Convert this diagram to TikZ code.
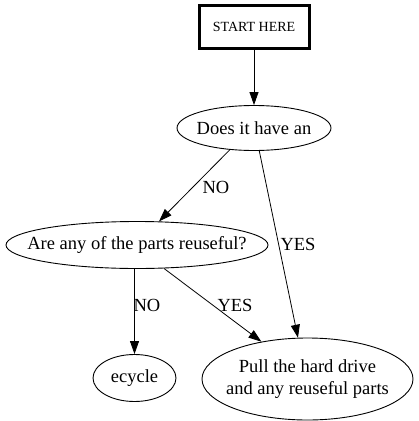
\documentclass[tikz,border=0pt]{standalone}
\usepackage{fontspec}
\setmainfont{Liberation Serif}
\usetikzlibrary{shapes.geometric,arrows.meta}
\tikzset{
  ell/.style={draw, ellipse, inner sep=0pt, line width=0.9pt},
  big/.style={font=\fontsize{18.5}{22}\selectfont},
  edge/.style={line width=0.8pt, -{Triangle[length=13pt,width=9pt]}},
  lbl/.style={big, inner sep=0pt}
}
\begin{document}
\begin{tikzpicture}[x=1pt,y=-1pt]
\useasboundingbox (0,0) rectangle (419,421);
\node[draw, line width=3pt, minimum width=110pt, minimum height=43pt, inner sep=0pt,
      font=\fontsize{14}{16}\selectfont] (start) at (254,27) {START HERE};
\node[ell, minimum width=154pt, minimum height=45pt,
      label={[big]center:Does it have an}] (does) at (254,128) {};
\node[ell, minimum width=262pt, minimum height=47pt,
      label={[big]center:Are any of the parts reuseful?}] (are) at (137,245) {};
\node[ell, minimum width=83pt, minimum height=47pt,
      label={[big]center:ecycle}] (ecycle) at (134.5,378) {};
\node[ell, minimum width=211pt, minimum height=82pt,
      label={[big,align=center]center:{Pull the hard drive\\and any reuseful parts}}] (pull) at (307.5,379) {};
\draw[edge] (start.south) -- (does.north);
\draw[edge] (does.222.5) -- (are.47.6);
\draw[edge] (does.-77.2) -- (pull.103);
\draw[edge] (ecycle.north |- are.south) -- (ecycle.north);
\draw[edge] (are.-41.5) -- (pull.141.6);
\node[lbl] (lno1) at (216,187) {NO};
\node[lbl] (lyes1) at (298,244) {YES};
\node[lbl] (lno2) at (147,305) {NO};
\node[lbl] (lyes2) at (235,305) {YES};
\end{tikzpicture}
\end{document}
